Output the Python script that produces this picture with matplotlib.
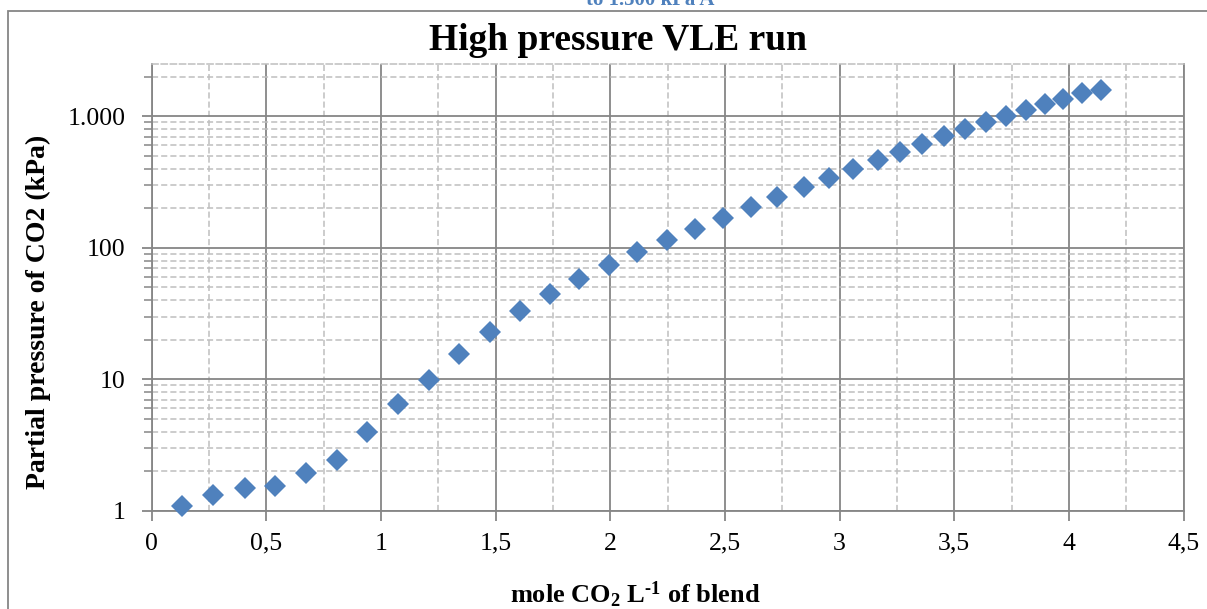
import matplotlib
matplotlib.use("Agg")
import matplotlib.pyplot as plt
import matplotlib.ticker as ticker
from matplotlib.patches import Rectangle

# values
x_mol = [0.131, 0.269, 0.407, 0.538, 0.673, 0.807, 0.940, 1.074, 1.208, 1.342,
         1.475, 1.606, 1.737, 1.865, 1.993, 2.118, 2.246, 2.369, 2.493, 2.612,
         2.728, 2.845, 2.954, 3.060, 3.169, 3.263, 3.358, 3.455, 3.547, 3.639,
         3.726, 3.813, 3.896, 3.976, 4.058, 4.140]
p_co2 = [1.09, 1.32, 1.50, 1.55, 1.93, 2.43, 4.0, 6.5, 9.95, 15.5,
         23.0, 32.8, 44.5, 58.2, 74.3, 92.3, 113.8, 139.8, 168.6, 203,
         242, 288, 338, 398, 463, 533, 617, 705, 803, 902,
         1002, 1114, 1251, 1359, 1492, 1580]

x_ticks = [0, 0.5, 1, 1.5, 2, 2.5, 3, 3.5, 4, 4.5]
x_ticklabels = ["0", "0,5", "1", "1,5", "2", "2,5", "3", "3,5", "4", "4,5"]
y_ticks = [1, 10, 100, 1000]
y_ticklabels = ["1", "10", "100", "1.000"]

title = "High pressure VLE run"
cut_text = "to 1.500 kPa A"
xlabel = "mole CO$_\\mathbf{2}$ L$^{\u2010\\mathbf{1}}$ of blend"
ylabel = "Partial pressure of CO2 (kPa)"

BLUE = "#4F81BD"
MAJOR = "#868686"
MINOR = "#BFBFBF"

plt.rcParams["font.family"] = ["Liberation Serif", "DejaVu Serif"]
plt.rcParams["mathtext.fontset"] = "custom"
plt.rcParams["mathtext.rm"] = "Liberation Serif:bold"
plt.rcParams["mathtext.it"] = "Liberation Serif:bold"
plt.rcParams["mathtext.bf"] = "Liberation Serif:bold"

W, H = 1207, 609
fig = plt.figure(figsize=(W / 100, H / 100), dpi=100)
ax = fig.add_axes([151.7 / W, 1 - 510.7 / H, (1183.6 - 151.7) / W, (510.7 - 64) / H])

ax.plot(x_mol, p_co2, linestyle="none", marker="D", markersize=11,
        markerfacecolor=BLUE, markeredgewidth=0, zorder=5, clip_on=False)

ax.set_yscale("log")
ax.set_xlim(0, 4.5)
ax.set_ylim(1, 2500)

ax.set_xticks(x_ticks)
ax.set_xticklabels(x_ticklabels)
ax.xaxis.set_minor_locator(ticker.MultipleLocator(0.25))
ax.set_yticks(y_ticks)
ax.set_yticklabels(y_ticklabels)
ax.yaxis.set_minor_locator(ticker.LogLocator(base=10, subs=range(2, 10)))
ax.yaxis.set_minor_formatter(ticker.NullFormatter())

ax.grid(which="major", color=MAJOR, linewidth=1.3, linestyle="-")
ax.grid(which="minor", color=MINOR, linewidth=1.1, linestyle=(0, (4, 2)))
ax.set_axisbelow(True)

ax.tick_params(axis="both", which="major", direction="out", length=7, width=1.3,
               color=MAJOR, labelsize=18.5)
ax.tick_params(axis="y", which="major", pad=12)
ax.tick_params(axis="y", which="minor", direction="out", length=6, width=1.1,
               color=MAJOR)
ax.tick_params(axis="x", which="minor", length=0)
ax.tick_params(axis="x", which="major", pad=9)

for side in ["left", "bottom", "right"]:
    ax.spines[side].set_color(MAJOR)
    ax.spines[side].set_linewidth(1.3)
ax.spines["top"].set_color(MINOR)
ax.spines["top"].set_linewidth(1.1)
ax.spines["top"].set_linestyle((0, (4, 2)))

fig.text(618 / W, 1 - 50 / H, title, ha="center", va="baseline",
         fontsize=27, fontweight="bold")
fig.text(650 / W, 1 - 5 / H, cut_text, ha="center", va="baseline",
         fontsize=15, fontweight="bold", color=BLUE)
fig.text(635 / W, 1 - 603 / H, xlabel, ha="center", va="baseline",
         fontsize=19, fontweight="bold")
fig.text(38 / W, 1 - 311.5 / H, ylabel, ha="center", va="center",
         rotation=90, fontsize=20, fontweight="bold")

# chart area border, runs past the bottom and right edges
fig.patches.append(Rectangle((8 / W, -0.2), 1.5, 1.2 - 11 / H,
                             transform=fig.transFigure, fill=False,
                             edgecolor=MAJOR, linewidth=1.3))

fig.savefig("out.png", dpi=100)
